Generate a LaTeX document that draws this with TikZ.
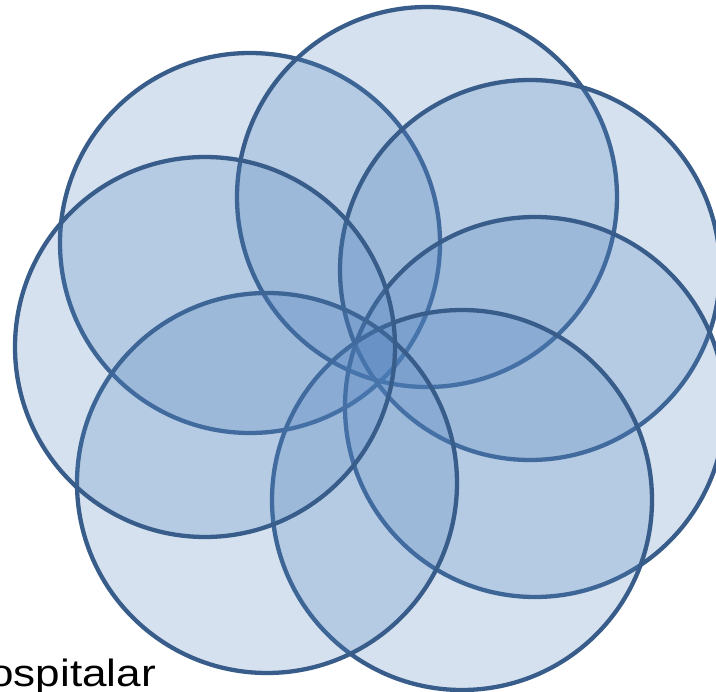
\documentclass[tikz,border=0pt]{standalone}
\usepackage{fontspec}
\setmainfont{Liberation Sans}
\definecolor{petalline}{RGB}{56,93,138}
\definecolor{petalfill}{RGB}{79,129,189}
\tikzset{petal/.style={draw=petalline, line width=4.3pt, fill=petalfill, fill opacity=0.24}}

\begin{document}
\begin{tikzpicture}[x=1pt,y=-1pt]
  \useasboundingbox (0,0) rectangle (716,692);
  \clip (0,0) rectangle (716,692);
  % seven overlapping circles
  \foreach \cx/\cy in {250/243,427/197,530/270,535/407,462/500,267/483,205/347}
    \draw[petal] (\cx,\cy) circle[radius=190];
  \node[font=\fontsize{38}{40}\selectfont, anchor=base east, inner sep=0pt] (label) at (156,687) {\scalebox{1.16}[1]{ospitalar}};
\end{tikzpicture}
\end{document}
